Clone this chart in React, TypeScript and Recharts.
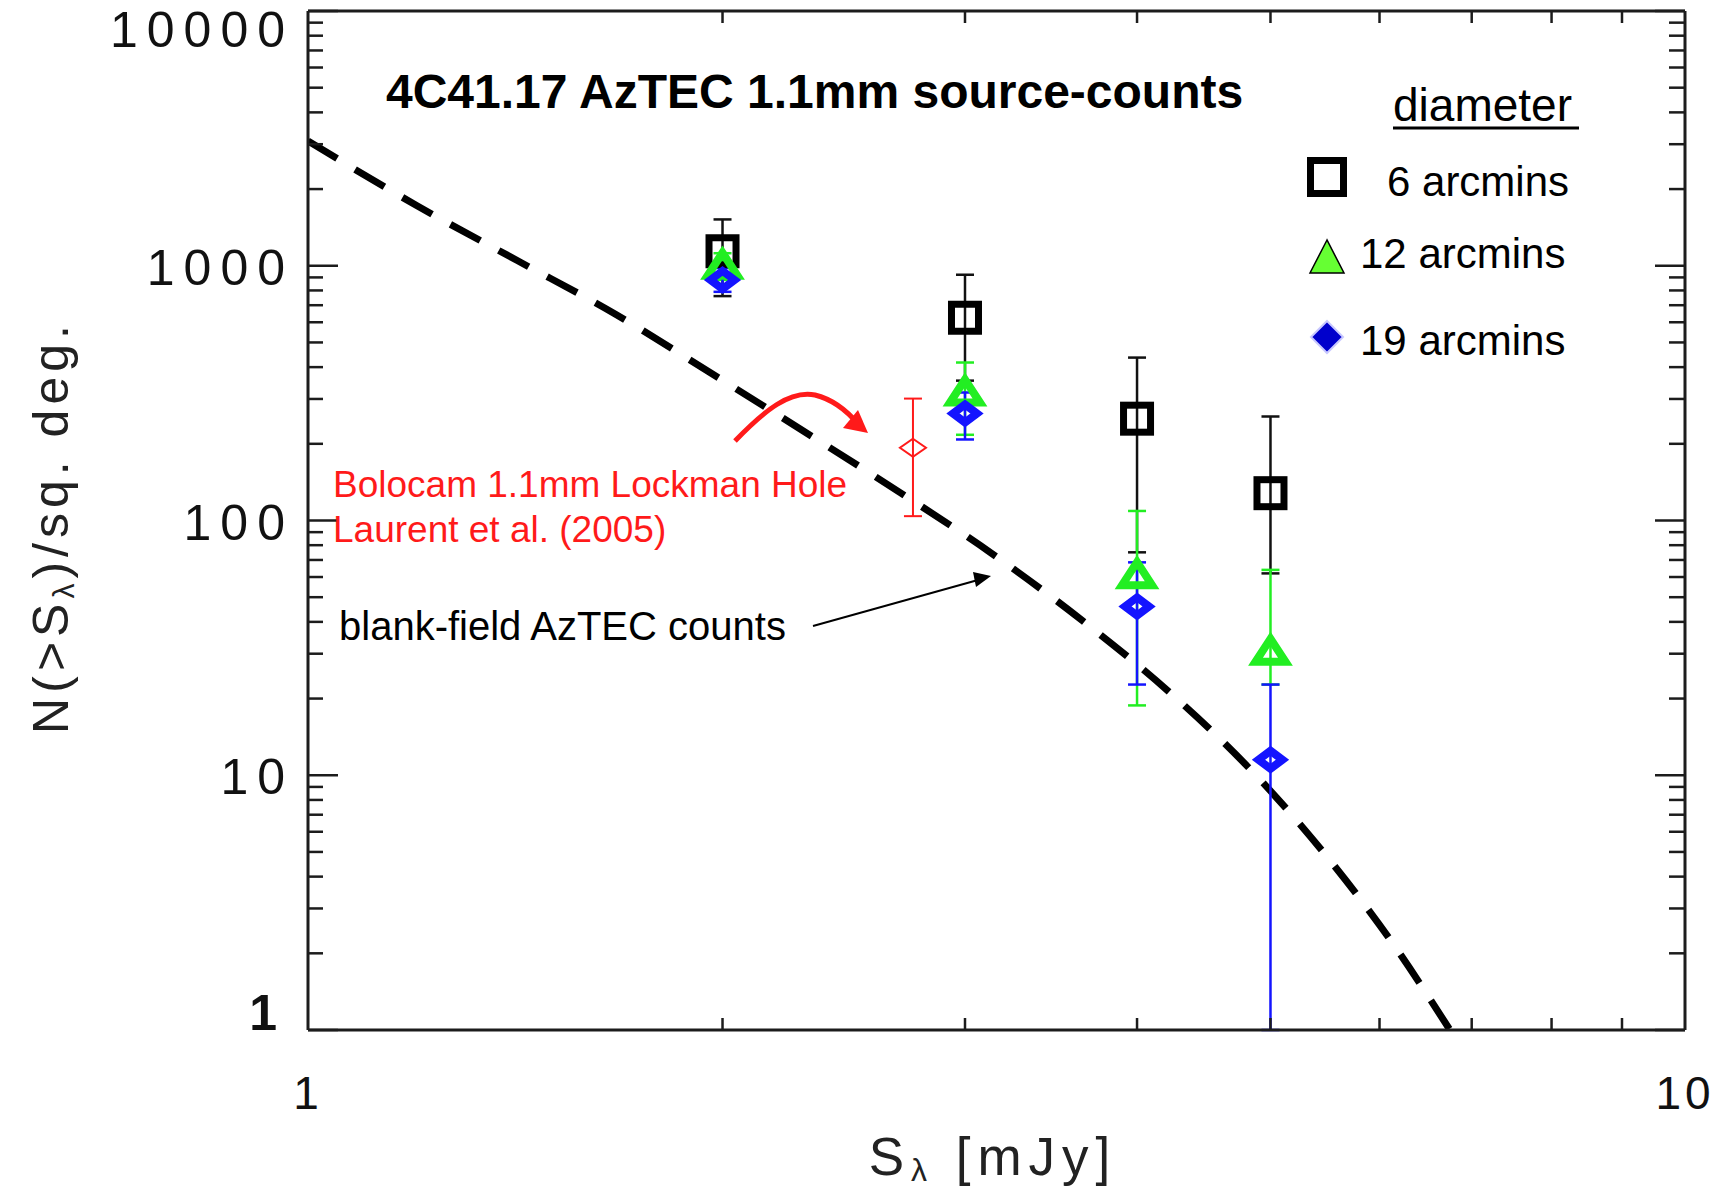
import React from 'react';
import {
  ComposedChart,
  Scatter,
  Line,
  XAxis,
  YAxis,
  ErrorBar,
} from 'recharts';

// flux bins (mJy) where the AzTEC counts were measured
const fluxBins = [2, 3, 4, 5];

// 6 arcmin diameter
const counts6 = [1140, 625, 251, 128];
const counts6Lo = [760, 354, 75, 62];
const counts6Hi = [1520, 922, 436, 256];

// 12 arcmin diameter
const counts12 = [1000, 318, 61, 30.5];
const counts12Lo = [880, 217, 18.8, 22.7];
const counts12Hi = [1120, 417, 109, 64];

// 19 arcmin diameter
const counts19 = [880, 263, 46, 11.5];
const counts19Lo = [790, 208, 22.7, 1];
const counts19Hi = [980, 318, 68.5, 22.7];

// Bolocam Lockman Hole (Laurent et al. 2005)
const bolocamFlux = [2.75];
const bolocamCounts = [193];
const bolocamLo = [104];
const bolocamHi = [301];

// blank-field AzTEC counts (dashed curve)
const blankFlux = [1, 1.2, 1.42, 1.67, 1.96, 2.3, 2.69, 3.14, 3.65, 4.21, 4.83, 5.46, 6.13, 6.75];
const blankCounts = [3090, 1720, 1046, 648, 380, 221, 129, 74, 40.5, 21.5, 10.6, 5.0, 2.2, 1.0];

const xTicks = [1, 2, 3, 4, 5, 6, 7, 8, 9, 10];
const yTicks = [
  1, 2, 3, 4, 5, 6, 7, 8, 9,
  10, 20, 30, 40, 50, 60, 70, 80, 90,
  100, 200, 300, 400, 500, 600, 700, 800, 900,
  1000, 2000, 3000, 4000, 5000, 6000, 7000, 8000, 9000,
  10000,
];

const FONT = '"Liberation Sans", Arial, Helvetica, sans-serif';
const AXIS = '#1c1c1c';
const GREEN = '#22ee22';
const BLUE = '#1414ff';
const RED = '#ff1a1a';

const withErr = (xs: number[], ys: number[], lo: number[], hi: number[]) =>
  xs.map((x, i) => ({ x, y: ys[i], err: [ys[i] - lo[i], hi[i] - ys[i]] }));

const data6 = withErr(fluxBins, counts6, counts6Lo, counts6Hi);
const data12 = withErr(fluxBins, counts12, counts12Lo, counts12Hi);
const data19 = withErr(fluxBins, counts19, counts19Lo, counts19Hi);
const dataBolocam = withErr(bolocamFlux, bolocamCounts, bolocamLo, bolocamHi);
const dataBlank = blankFlux.map((x, i) => ({ x, y: blankCounts[i] }));

const isDecade = (v: number) => Math.abs(Math.log10(v) - Math.round(Math.log10(v))) < 1e-9;

const LeftTick = (props: any) => {
  const { x, y, payload } = props;
  const v = payload.value;
  const major = isDecade(v);
  let base = y + 19;
  if (v === 10000) base = y + 36;
  if (v === 1) base = y;
  return (
    <g>
      <line x1={x} x2={x + (major ? 30 : 15)} y1={y} y2={y} stroke={AXIS} strokeWidth={2.5} />
      {major && (
        <text x={v === 1 ? x - 22 : x - 14} y={base} textAnchor="end" fontFamily={FONT}
          fontSize={50} letterSpacing={9} fill="#111" fontWeight={v === 1 ? 700 : 400}>
          {v}
        </text>
      )}
    </g>
  );
};

const RightTick = (props: any) => {
  const { x, y, payload } = props;
  const major = isDecade(payload.value);
  return <line x1={x} x2={x - (major ? 30 : 16)} y1={y} y2={y} stroke={AXIS} strokeWidth={2.5} />;
};

const BottomTick = (props: any) => {
  const { x, y, payload } = props;
  const v = payload.value;
  const major = v === 1 || v === 10;
  return (
    <g>
      {!major && <line x1={x} x2={x} y1={y} y2={y - 12} stroke={AXIS} strokeWidth={2.5} />}
      {major && (
        <text x={x} y={y + 79} textAnchor="middle" fontFamily={FONT} fontSize={46}
          letterSpacing={4} fill="#111">
          {v}
        </text>
      )}
    </g>
  );
};

const TopTick = (props: any) => {
  const { x, y, payload } = props;
  const v = payload.value;
  if (v === 1 || v === 10) return <g />;
  return <line x1={x} x2={x} y1={y} y2={y + 12} stroke={AXIS} strokeWidth={2.5} />;
};

const Square = (p: any) => (
  <rect x={p.cx - 13.5} y={p.cy - 13.5} width={27} height={27} fill="none" stroke="#000" strokeWidth={7} />
);
const Triangle = (p: any) => (
  <polygon
    points={`${p.cx},${p.cy - 13} ${p.cx - 15},${p.cy + 10} ${p.cx + 15},${p.cy + 10}`}
    fill="none" stroke={GREEN} strokeWidth={8} strokeLinejoin="miter"
  />
);
const Diamond = (p: any) => (
  <polygon
    points={`${p.cx},${p.cy - 9} ${p.cx + 12},${p.cy} ${p.cx},${p.cy + 9} ${p.cx - 12},${p.cy}`}
    fill="none" stroke={BLUE} strokeWidth={8}
  />
);
const RedDiamond = (p: any) => (
  <polygon
    points={`${p.cx},${p.cy - 9} ${p.cx + 13},${p.cy} ${p.cx},${p.cy + 9} ${p.cx - 13},${p.cy}`}
    fill="none" stroke={RED} strokeWidth={2}
  />
);

function Overlay() {
  return (
    <svg width={1730} height={1191} style={{ position: 'absolute', left: 0, top: 0, pointerEvents: 'none' }}>
      <text x={386} y={108} fontFamily={FONT} fontWeight={700} fontSize={48} fill="#000">
        4C41.17 AzTEC 1.1mm source-counts
      </text>

      {/* legend */}
      <text x={1393} y={121} fontFamily={FONT} fontSize={46} fill="#000">diameter</text>
      <line x1={1393} x2={1579} y1={128} y2={128} stroke="#000" strokeWidth={3} />
      <rect x={1310.5} y={160.5} width={33} height={33} fill="none" stroke="#000" strokeWidth={7} />
      <text x={1387} y={196} fontFamily={FONT} fontSize={42} fill="#000">6 arcmins</text>
      <polygon points="1327,240 1310,273 1344,273" fill="#66ff33" stroke="#000" strokeWidth={1.5} />
      <text x={1360} y={268} fontFamily={FONT} fontSize={42} fill="#000">12 arcmins</text>
      <polygon points="1327,321 1343,337 1327,353 1311,337" fill="#0000cc" stroke="#c8c8ff" strokeWidth={2} />
      <text x={1360} y={355} fontFamily={FONT} fontSize={42} fill="#000">19 arcmins</text>

      {/* annotations */}
      <text x={333} y={497} fontFamily={FONT} fontSize={37} fill={RED}>Bolocam 1.1mm Lockman Hole</text>
      <text x={333} y={542} fontFamily={FONT} fontSize={37} fill={RED}>Laurent et al. (2005)</text>
      <path d="M735,441 C765,410 790,390 815,395 C835,400 848,412 858,424" fill="none" stroke={RED} strokeWidth={5} />
      <polygon points="868,433 843,428 858,410" fill={RED} />

      <text x={339} y={640} fontFamily={FONT} fontSize={40} fill="#000">blank-field AzTEC counts</text>
      <line x1={813} y1={626} x2={978} y2={580} stroke="#000" strokeWidth={2} />
      <polygon points="991,576 973,572 976,587" fill="#000" />

      {/* axis titles */}
      <text x={993} y={1175} textAnchor="middle" fontFamily={FONT} fontSize={53} letterSpacing={7} fill="#222">
        S<tspan fontSize={32} dy={6}>λ</tspan><tspan dy={-6}> [mJy]</tspan>
      </text>
      <text transform="translate(68,527) rotate(-90)" textAnchor="middle" fontFamily={FONT} fontSize={50}
        letterSpacing={5} fill="#222">
        N(&gt;S<tspan fontSize={30} dy={6}>λ</tspan><tspan dy={-6}>)/sq. deg.</tspan>
      </text>
    </svg>
  );
}

export default function App() {
  return (
    <div style={{ position: 'absolute', left: 0, top: 0, width: 1730, height: 1191, background: '#fff' }}>
      <ComposedChart width={1730} height={1191} margin={{ top: 0, right: 0, bottom: 0, left: 0 }}>
        <XAxis xAxisId="b" dataKey="x" type="number" scale="log" domain={[1, 10]} ticks={xTicks}
          interval={0} allowDataOverflow orientation="bottom" height={161} tickSize={0} tickMargin={0}
          tickLine={false} axisLine={{ stroke: AXIS, strokeWidth: 3 }} tick={<BottomTick />} />
        <XAxis xAxisId="t" dataKey="x" type="number" scale="log" domain={[1, 10]} ticks={xTicks}
          interval={0} allowDataOverflow orientation="top" height={11} tickSize={0} tickMargin={0}
          tickLine={false} axisLine={{ stroke: AXIS, strokeWidth: 3 }} tick={<TopTick />} />
        <YAxis yAxisId="l" dataKey="y" type="number" scale="log" domain={[1, 10000]} ticks={yTicks}
          interval={0} allowDataOverflow orientation="left" width={308} tickSize={0} tickMargin={0}
          tickLine={false} axisLine={{ stroke: AXIS, strokeWidth: 3 }} tick={<LeftTick />} />
        <YAxis yAxisId="r" dataKey="y" type="number" scale="log" domain={[1, 10000]} ticks={yTicks}
          interval={0} allowDataOverflow orientation="right" width={45} tickSize={0} tickMargin={0}
          tickLine={false} axisLine={{ stroke: AXIS, strokeWidth: 3 }} tick={<RightTick />} />

        <Line xAxisId="b" yAxisId="l" data={dataBlank} dataKey="y" type="monotone" stroke="#000"
          strokeWidth={7} strokeDasharray="34 21" dot={false} isAnimationActive={false} />

        <Scatter xAxisId="t" yAxisId="r" data={dataBolocam} dataKey="y" shape={<RedDiamond />} isAnimationActive={false}>
          <ErrorBar dataKey="err" direction="y" width={9} stroke={RED} strokeWidth={2} />
        </Scatter>
        <Scatter xAxisId="b" yAxisId="l" data={data6} dataKey="y" shape={<Square />} isAnimationActive={false}>
          <ErrorBar dataKey="err" direction="y" width={9} stroke="#111" strokeWidth={2.5} />
        </Scatter>
        <Scatter xAxisId="b" yAxisId="l" data={data12} dataKey="y" shape={<Triangle />} isAnimationActive={false}>
          <ErrorBar dataKey="err" direction="y" width={9} stroke={GREEN} strokeWidth={2.5} />
        </Scatter>
        <Scatter xAxisId="b" yAxisId="l" data={data19} dataKey="y" shape={<Diamond />} isAnimationActive={false}>
          <ErrorBar dataKey="err" direction="y" width={9} stroke={BLUE} strokeWidth={2.5} />
        </Scatter>
      </ComposedChart>
      <Overlay />
    </div>
  );
}
